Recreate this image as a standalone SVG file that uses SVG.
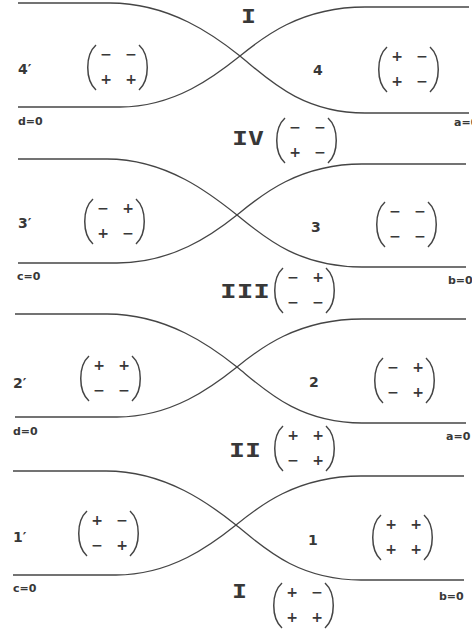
<svg xmlns="http://www.w3.org/2000/svg" xmlns:xlink="http://www.w3.org/1999/xlink" width="472" height="635" viewBox="0 0 472 635">
<style>
.c{fill:none;stroke:#454545;stroke-width:1.3}
.p{fill:none;stroke:#454545;stroke-width:1.5}
.e{font-family:"DejaVu Sans",sans-serif;font-weight:bold;font-size:14px;fill:#383838;text-anchor:middle}
.n{font-family:"DejaVu Sans",sans-serif;font-weight:bold;font-size:14px;fill:#383838}
.z{font-family:"DejaVu Sans",sans-serif;font-weight:bold;font-size:11px;fill:#383838}
.r{font-family:"DejaVu Sans Mono",monospace;font-weight:bold;font-size:20px;fill:#383838}
</style>
<defs>
<g id="parens">
<path class="p" d="M9,0 C-2,10 -2,35 9,45"/>
<path class="p" d="M52,0 C63,10 63,35 52,45"/>
</g>
</defs>
<rect width="472" height="635" fill="#ffffff"/>
<g id="connectors">
<path class="c" d="M18,3 H110 C170,3 215,36 240,56 C266,77 300,113 365,113 H469"/>
<path class="c" d="M18,107 H120 C175,107 215,76 240,56 C262,38 300,7 365,7 H469"/>
<path class="c" d="M18,159 H107 C167,159 212,195 237,215 C263,236 297,267 362,267 H466"/>
<path class="c" d="M18,263 H117 C172,263 212,235 237,215 C259,197 297,164 362,164 H466"/>
<path class="c" d="M15,314 H107 C167,314 212,347 237,367 C263,388 297,423 362,423 H466"/>
<path class="c" d="M15,417 H117 C172,417 212,387 237,367 C259,349 297,319 362,319 H466"/>
<path class="c" d="M13,471 H106 C166,471 211,505 236,525 C262,546 296,580 361,580 H464"/>
<path class="c" d="M13,575 H116 C171,575 211,545 236,525 C258,507 296,476 361,476 H464"/>
</g>
<g id="labels">
<text class="r" x="241" y="23" textLength="15" lengthAdjust="spacingAndGlyphs">I</text>
<text class="r" x="232" y="145" textLength="32" lengthAdjust="spacingAndGlyphs">IV</text>
<text class="r" x="220" y="298" textLength="50" lengthAdjust="spacingAndGlyphs">III</text>
<text class="r" x="229" y="457" textLength="32" lengthAdjust="spacingAndGlyphs">II</text>
<text class="r" x="232" y="598" textLength="15" lengthAdjust="spacingAndGlyphs">I</text>
<text class="n" x="18" y="74">4′</text>
<text class="n" x="313" y="75">4</text>
<text class="n" x="18" y="228">3′</text>
<text class="n" x="311" y="232">3</text>
<text class="n" x="13" y="388">2′</text>
<text class="n" x="309" y="387">2</text>
<text class="n" x="13" y="542">1′</text>
<text class="n" x="308" y="545">1</text>
<text class="z" x="18" y="125">d=0</text>
<text class="z" x="454" y="126">a=0</text>
<text class="z" x="17" y="280">c=0</text>
<text class="z" x="448" y="284">b=0</text>
<text class="z" x="13" y="435">d=0</text>
<text class="z" x="446" y="440">a=0</text>
<text class="z" x="13" y="592">c=0</text>
<text class="z" x="439" y="600">b=0</text>
</g>
<g id="m1l" transform="translate(87,45)"><use xlink:href="#parens"/><text class="e" x="19" y="14">−</text><text class="e" x="44" y="14">−</text><text class="e" x="19" y="39">+</text><text class="e" x="44" y="39">+</text></g>
<g id="m1r" transform="translate(378,47)"><use xlink:href="#parens"/><text class="e" x="19" y="14">+</text><text class="e" x="44" y="14">−</text><text class="e" x="19" y="39">+</text><text class="e" x="44" y="39">−</text></g>
<g id="miv" transform="translate(276,118)"><use xlink:href="#parens"/><text class="e" x="19" y="14">−</text><text class="e" x="44" y="14">−</text><text class="e" x="19" y="39">+</text><text class="e" x="44" y="39">−</text></g>
<g id="m2l" transform="translate(84,199)"><use xlink:href="#parens"/><text class="e" x="19" y="14">−</text><text class="e" x="44" y="14">+</text><text class="e" x="19" y="39">+</text><text class="e" x="44" y="39">−</text></g>
<g id="m2r" transform="translate(376,202)"><use xlink:href="#parens"/><text class="e" x="19" y="14">−</text><text class="e" x="44" y="14">−</text><text class="e" x="19" y="39">−</text><text class="e" x="44" y="39">−</text></g>
<g id="miii" transform="translate(274,268)"><use xlink:href="#parens"/><text class="e" x="19" y="14">−</text><text class="e" x="44" y="14">+</text><text class="e" x="19" y="39">−</text><text class="e" x="44" y="39">−</text></g>
<g id="m3l" transform="translate(80,356)"><use xlink:href="#parens"/><text class="e" x="19" y="14">+</text><text class="e" x="44" y="14">+</text><text class="e" x="19" y="39">−</text><text class="e" x="44" y="39">−</text></g>
<g id="m3r" transform="translate(374,358)"><use xlink:href="#parens"/><text class="e" x="19" y="14">−</text><text class="e" x="44" y="14">+</text><text class="e" x="19" y="39">−</text><text class="e" x="44" y="39">+</text></g>
<g id="mii" transform="translate(274,426)"><use xlink:href="#parens"/><text class="e" x="19" y="14">+</text><text class="e" x="44" y="14">+</text><text class="e" x="19" y="39">−</text><text class="e" x="44" y="39">+</text></g>
<g id="m4l" transform="translate(78,511)"><use xlink:href="#parens"/><text class="e" x="19" y="14">+</text><text class="e" x="44" y="14">−</text><text class="e" x="19" y="39">−</text><text class="e" x="44" y="39">+</text></g>
<g id="m4r" transform="translate(372,515)"><use xlink:href="#parens"/><text class="e" x="19" y="14">+</text><text class="e" x="44" y="14">+</text><text class="e" x="19" y="39">+</text><text class="e" x="44" y="39">+</text></g>
<g id="mi" transform="translate(273,583)"><use xlink:href="#parens"/><text class="e" x="19" y="14">+</text><text class="e" x="44" y="14">−</text><text class="e" x="19" y="39">+</text><text class="e" x="44" y="39">+</text></g>
</svg>
